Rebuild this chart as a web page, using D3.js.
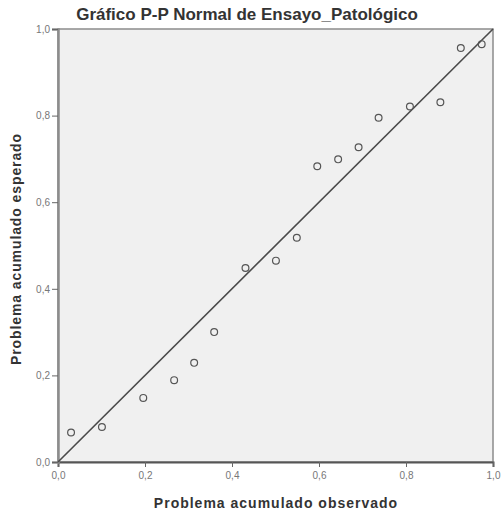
<!DOCTYPE html>
<html>
<head>
<meta charset="utf-8">
<script src="https://cdn.jsdelivr.net/npm/d3@7"></script>
<style>
  body { margin: 0; background: #fff; }
  svg { font-family: Arial, "Liberation Sans", sans-serif; }
</style>
</head>
<body>
<div id="chart"></div>
<script>
// observed vs expected cumulative probability
const observed = [0.030, 0.101, 0.196, 0.267, 0.313, 0.359, 0.431, 0.501, 0.549,
  0.596, 0.644, 0.691, 0.737, 0.809, 0.879, 0.926, 0.974];
const expected = [0.068, 0.081, 0.148, 0.189, 0.229, 0.300, 0.448, 0.465, 0.518,
  0.683, 0.699, 0.727, 0.795, 0.821, 0.831, 0.956, 0.965];
const ticks = [0, 0.2, 0.4, 0.6, 0.8, 1.0];

const W = 502, H = 520;
const margin = { top: 29, right: 9, bottom: 58, left: 58 };
const width = W - margin.left - margin.right;
const height = H - margin.top - margin.bottom;

const svg = d3.select("#chart").append("svg")
  .attr("width", W)
  .attr("height", H);

const g = svg.append("g")
  .attr("transform", `translate(${margin.left},${margin.top})`);

const x = d3.scaleLinear().domain([0, 1]).range([0, width]);
const y = d3.scaleLinear().domain([0, 1]).range([height, 0]);

const fmt = d => d.toFixed(1).replace(".", ",");

// plot background + frame
g.append("rect")
  .attr("width", width)
  .attr("height", height)
  .attr("fill", "#f0f0f0")
  .attr("stroke", "#8c8c8c")
  .attr("stroke-width", 1.5);

// axes
const xAxis = g.append("g")
  .attr("transform", `translate(0,${height})`)
  .call(d3.axisBottom(x).tickValues(ticks).tickFormat(fmt).tickSize(5).tickPadding(5));
const yAxis = g.append("g")
  .call(d3.axisLeft(y).tickValues(ticks).tickFormat(fmt).tickSize(6).tickPadding(2));

xAxis.select(".domain").attr("stroke", "#555").attr("stroke-width", 2);
yAxis.select(".domain").attr("stroke", "#8c8c8c").attr("stroke-width", 2.5);
[xAxis, yAxis].forEach(a => {
  a.selectAll(".tick line").attr("stroke", "#666");
  a.selectAll(".tick text").attr("fill", "#777").style("font-size", "10px");
});

// reference line
g.append("line")
  .attr("x1", x(0)).attr("y1", y(0))
  .attr("x2", x(1)).attr("y2", y(1))
  .attr("stroke", "#4a4a4a")
  .attr("stroke-width", 1.6);

// points
const pts = observed.map((o, i) => ({ o, e: expected[i] }));
g.selectAll("circle")
  .data(pts)
  .join("circle")
  .attr("cx", d => x(d.o))
  .attr("cy", d => y(d.e))
  .attr("r", 3.4)
  .attr("fill", "none")
  .attr("stroke", "#555")
  .attr("stroke-width", 1.2);

// title & labels
svg.append("text")
  .attr("x", 247).attr("y", 20)
  .attr("text-anchor", "middle")
  .style("font-size", "17px")
  .style("font-weight", "bold")
  .attr("fill", "#333")
  .text("Gráfico P-P Normal de Ensayo_Patológico");

svg.append("text")
  .attr("x", 276).attr("y", 508)
  .attr("text-anchor", "middle")
  .style("font-size", "14px")
  .style("font-weight", "bold")
  .style("letter-spacing", "1px")
  .attr("fill", "#333")
  .text("Problema acumulado observado");

svg.append("text")
  .attr("transform", `translate(21,249) rotate(-90)`)
  .attr("text-anchor", "middle")
  .style("font-size", "14px")
  .style("font-weight", "bold")
  .style("letter-spacing", "0.9px")
  .attr("fill", "#333")
  .text("Problema acumulado esperado");
</script>
</body>
</html>
